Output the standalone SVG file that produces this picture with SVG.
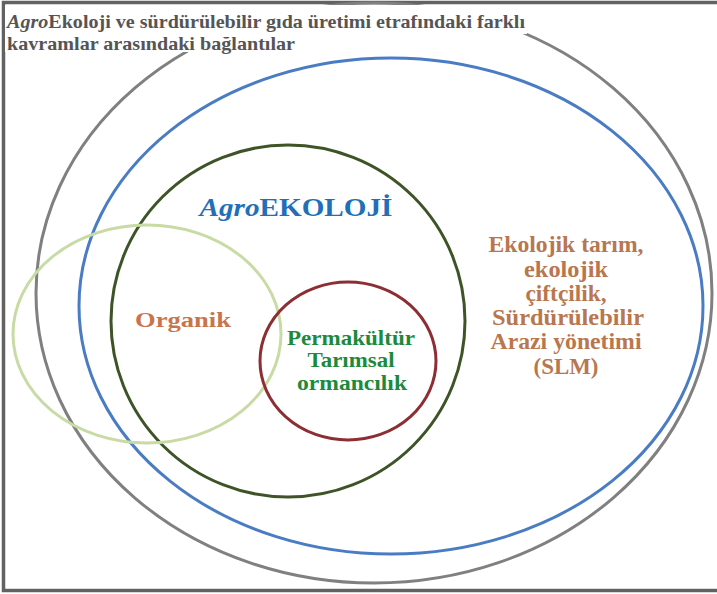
<svg xmlns="http://www.w3.org/2000/svg" width="717" height="594" viewBox="0 0 717 594">
  <style>
    .ring { fill: none; }
    .t { font-family: "Liberation Serif", "Times New Roman", serif; font-weight: bold; }
  </style>
  <rect x="0" y="0" width="717" height="594" fill="#ffffff"/>
  <!-- frame -->
  <rect x="3.5" y="2.5" width="720" height="588" fill="none" stroke="#626262" stroke-width="3.5"/>

  <g id="sustainable-production">
    <ellipse class="ring" cx="374" cy="293" rx="338" ry="290" stroke="#808080" stroke-width="3"/>
  </g>

  <!-- title panel sits over the outer ring -->
  <g id="title">
    <rect x="5" y="5" width="522" height="29" fill="#ffffff"/>
    <rect x="5" y="30" width="300" height="22" fill="#ffffff"/>
    <text class="t" x="7" y="28" font-size="19" fill="#555555" textLength="518" lengthAdjust="spacingAndGlyphs"><tspan font-style="italic">Agro</tspan>Ekoloji ve sürdürülebilir gıda üretimi etrafındaki farklı</text>
    <text class="t" x="7" y="50" font-size="19" fill="#555555" textLength="288" lengthAdjust="spacingAndGlyphs">kavramlar arasındaki bağlantılar</text>
  </g>

  <g id="ecological-farming">
    <ellipse class="ring" cx="391" cy="306" rx="312" ry="248" stroke="#4a7cc4" stroke-width="3"/>
    <g class="t" font-size="23" fill="#b8774f" text-anchor="middle">
      <text x="566" y="252" textLength="155" lengthAdjust="spacingAndGlyphs">Ekolojik tarım,</text>
      <text x="566" y="277" textLength="84" lengthAdjust="spacingAndGlyphs">ekolojik</text>
      <text x="566" y="301" textLength="81" lengthAdjust="spacingAndGlyphs">çiftçilik,</text>
      <text x="568" y="325" textLength="152" lengthAdjust="spacingAndGlyphs">Sürdürülebilir</text>
      <text x="566" y="349" textLength="151" lengthAdjust="spacingAndGlyphs">Arazi yönetimi</text>
      <text x="566" y="374" textLength="65" lengthAdjust="spacingAndGlyphs">(SLM)</text>
    </g>
  </g>

  <g id="agroecology">
    <ellipse class="ring" cx="288" cy="321" rx="177" ry="176" stroke="#3e5427" stroke-width="3"/>
    <text class="t" x="296" y="216" font-size="25" fill="#1f70b8" text-anchor="middle" textLength="193" lengthAdjust="spacingAndGlyphs"><tspan font-style="italic">Agro</tspan>EKOLOJİ</text>
  </g>

  <g id="organic">
    <ellipse class="ring" cx="147" cy="334" rx="134" ry="109" stroke="#c8dba4" stroke-width="3"/>
    <text class="t" x="183" y="327" font-size="22" fill="#c8754c" text-anchor="middle" textLength="96" lengthAdjust="spacingAndGlyphs">Organik</text>
  </g>

  <g id="permaculture">
    <ellipse class="ring" cx="348" cy="361" rx="88" ry="79" stroke="#8c2e33" stroke-width="3"/>
    <g class="t" font-size="21" fill="#1c8a3c" text-anchor="middle">
      <text x="351" y="345" textLength="128" lengthAdjust="spacingAndGlyphs">Permakültür</text>
      <text x="351" y="367" textLength="87" lengthAdjust="spacingAndGlyphs">Tarımsal</text>
      <text x="352" y="390" textLength="110" lengthAdjust="spacingAndGlyphs">ormancılık</text>
    </g>
  </g>
</svg>
